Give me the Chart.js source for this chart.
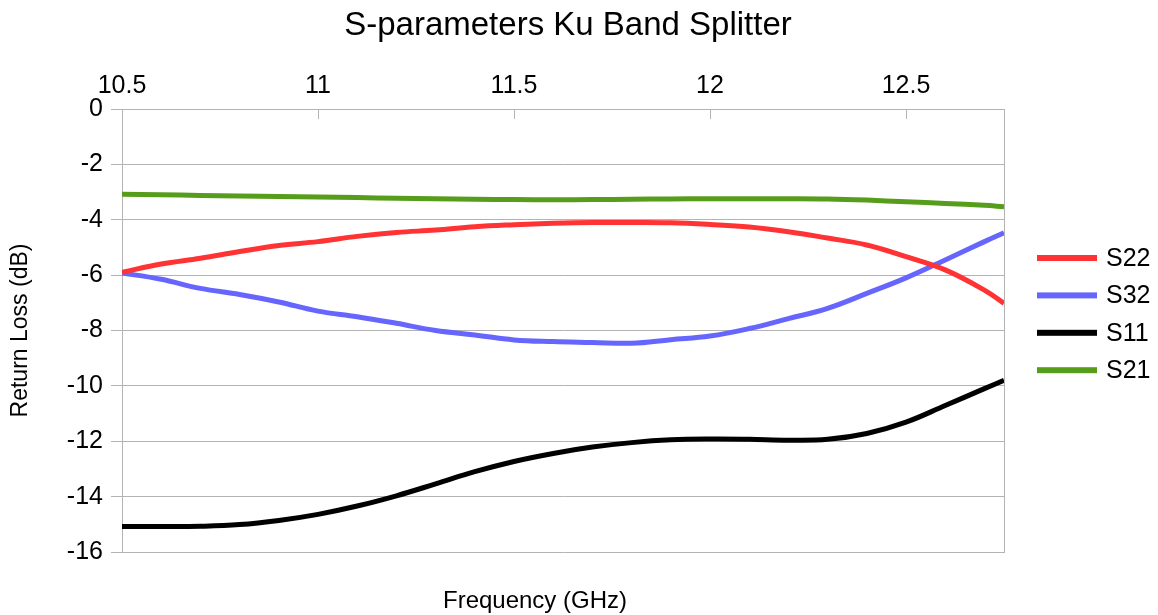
<!DOCTYPE html>
<html><head><meta charset="utf-8">
<script src="https://cdn.jsdelivr.net/npm/chart.js@4.4.1/dist/chart.umd.min.js"></script>
<style>html,body{margin:0;padding:0;background:#fff;} canvas{display:block;}</style>
</head><body>
<canvas id="c" width="1158" height="615"></canvas>
<script>
const frequencies = [10.5, 10.6, 10.7, 10.8, 10.9, 11.0, 11.1, 11.2, 11.3, 11.4, 11.5, 11.6, 11.7, 11.8, 11.9, 12.0, 12.1, 12.2, 12.3, 12.4, 12.5, 12.6, 12.7, 12.75];
const s22 = [-5.90, -5.60, -5.39, -5.15, -4.93, -4.79, -4.60, -4.46, -4.37, -4.25, -4.18, -4.13, -4.10, -4.10, -4.11, -4.17, -4.26, -4.43, -4.66, -4.91, -5.33, -5.81, -6.54, -7.02];
const s32 = [-5.92, -6.15, -6.48, -6.70, -6.97, -7.30, -7.50, -7.74, -8.00, -8.16, -8.34, -8.40, -8.43, -8.46, -8.33, -8.20, -7.93, -7.57, -7.20, -6.66, -6.10, -5.45, -4.79, -4.47];
const s11 = [-15.08, -15.08, -15.07, -15.01, -14.86, -14.64, -14.34, -13.97, -13.54, -13.10, -12.73, -12.44, -12.21, -12.05, -11.95, -11.92, -11.93, -11.96, -11.93, -11.72, -11.31, -10.71, -10.10, -9.80];
const s21 = [-3.08, -3.10, -3.12, -3.14, -3.16, -3.18, -3.20, -3.22, -3.24, -3.26, -3.27, -3.28, -3.27, -3.26, -3.25, -3.24, -3.24, -3.24, -3.25, -3.29, -3.35, -3.41, -3.48, -3.53];
const xTickValues = [10.5, 11, 11.5, 12, 12.5];
const seriesNames = ['S22', 'S32', 'S11', 'S21'];
const seriesColors = ['#ff3333', '#6666ff', '#000000', '#579d1c'];
const chartTitle = 'S-parameters Ku Band Splitter';
const xAxisTitle = 'Frequency (GHz)';
const yAxisTitle = 'Return Loss (dB)';

const FONT = "'Liberation Sans', Arial, sans-serif";
const GRID = '#b3b3b3';
const seriesValues = [s22, s32, s11, s21];

function pts(vals) { return frequencies.map((f, i) => ({x: f, y: vals[i]})); }

const extras = {
  id: 'extras',
  afterDraw(chart) {
    const {ctx, chartArea: a, scales} = chart;
    ctx.save();
    ctx.strokeStyle = GRID; ctx.lineWidth = 1;
    scales.x.ticks.forEach(t => {
      const px = Math.round(scales.x.getPixelForValue(t.value)) + 0.5;
      ctx.beginPath(); ctx.moveTo(px, a.top); ctx.lineTo(px, a.top + 10); ctx.stroke();
    });
    ctx.fillStyle = '#000';
    ctx.font = '24px ' + FONT;
    ctx.textAlign = 'center'; ctx.textBaseline = 'middle';
    ctx.fillText(xAxisTitle, 535, 601);
    // legend
    ctx.font = '25px ' + FONT;
    ctx.textAlign = 'left';
    chart.data.datasets.forEach((ds, i) => {
      const y = 258 + i * 37.4;
      ctx.fillStyle = ds.borderColor;
      ctx.fillRect(a.right + 33, y - 3, 60, 6);
      ctx.fillStyle = '#000';
      ctx.fillText(ds.label, a.right + 102, y + 1);
    });
    ctx.restore();
  }
};

new Chart(document.getElementById('c'), {
  type: 'line',
  data: {
    datasets: seriesNames.map((n, i) => ({
      label: n,
      data: pts(seriesValues[i]),
      borderColor: seriesColors[i],
      backgroundColor: seriesColors[i],
      borderWidth: 5,
      pointRadius: 0,
      tension: 0.4,
      fill: false
    }))
  },
  options: {
    responsive: false,
    devicePixelRatio: 1,
    animation: false,
    layout: {padding: {left: 0, right: 22, top: 0, bottom: 63}},
    plugins: {
      legend: {display: false},
      tooltip: {enabled: false},
      title: {display: true, text: chartTitle, color: '#000',
        font: {family: FONT, size: 33, weight: 'normal'}, padding: {top: 6, bottom: 6}}
    },
    scales: {
      x: {
        type: 'linear', position: 'top', min: 10.5, max: 12.75,
        afterBuildTicks: s => { s.ticks = xTickValues.map(v => ({value: v})); },
        afterFit: s => { s.height = 57.4; },
        ticks: {color: '#000', font: {family: FONT, size: 25}, padding: 8, maxRotation: 0, autoSkip: false,
          callback: v => String(v)},
        grid: {display: false, drawTicks: false},
        border: {display: true, color: GRID}
      },
      y: {
        type: 'linear', position: 'left', min: -16, max: 0,
        afterFit: s => { s.width = 122; },
        ticks: {stepSize: 2, color: '#000', font: {family: FONT, size: 25}, padding: 8},
        grid: {color: GRID, tickLength: 11, lineWidth: 1},
        border: {display: true, color: GRID},
        title: {display: true, text: yAxisTitle, color: '#000', font: {family: FONT, size: 23}, padding: {top: 7, bottom: 0}}
      },
      yR: {
        type: 'linear', position: 'right', display: true,
        afterFit: s => { s.width = 132; },
        ticks: {display: false},
        grid: {display: false, drawTicks: false},
        border: {display: true, color: GRID}
      }
    }
  },
  plugins: [extras]
});
</script>
</body></html>
